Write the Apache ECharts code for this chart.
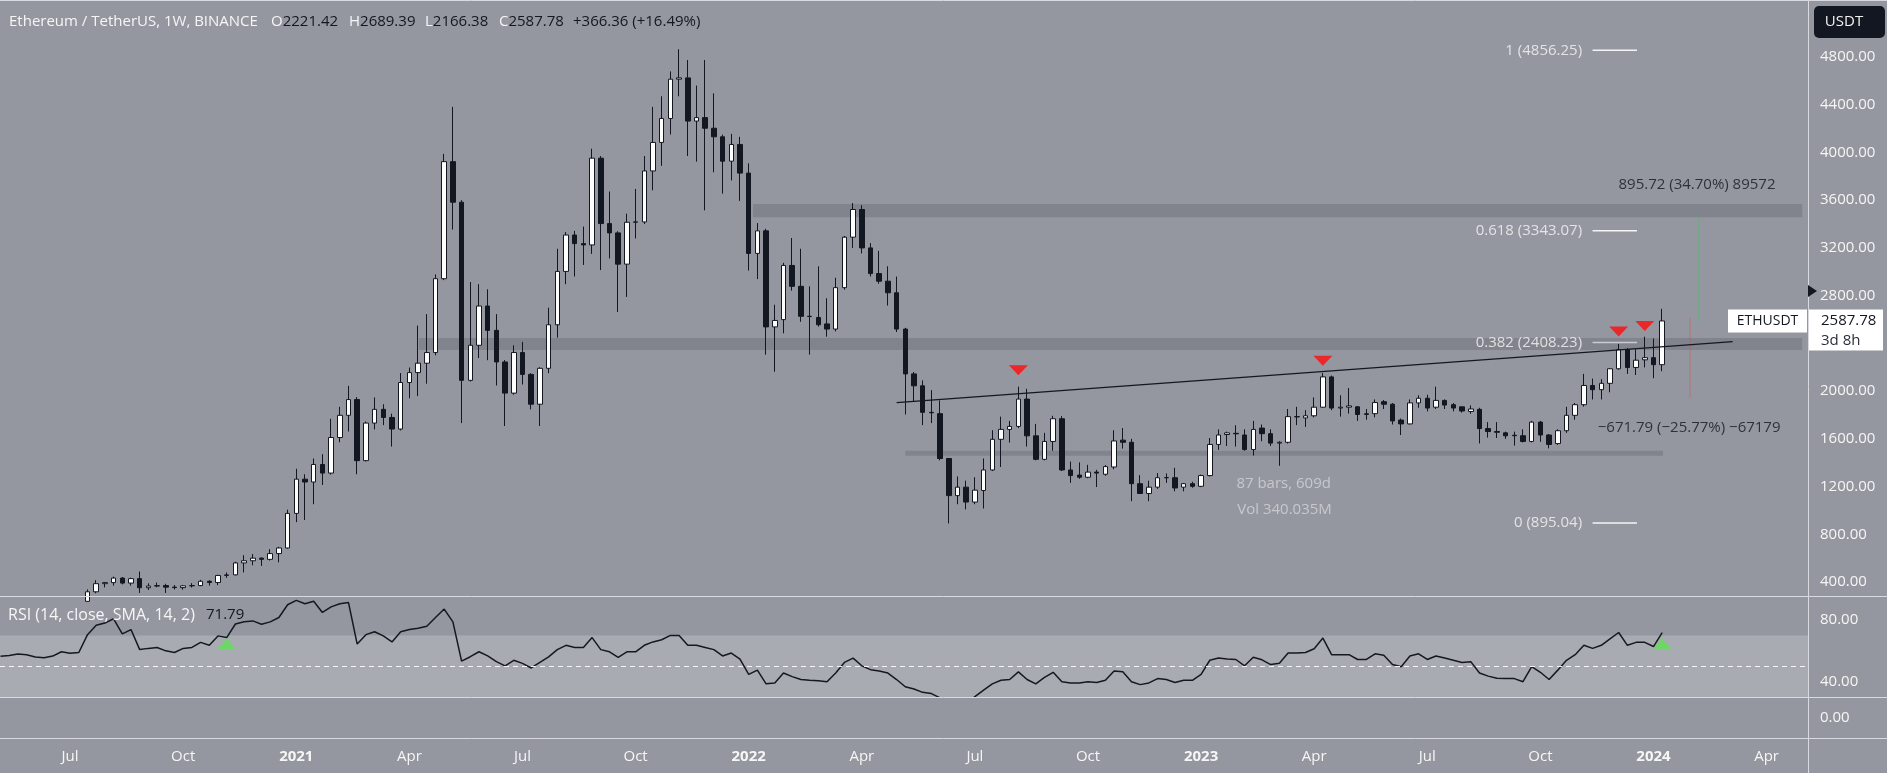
<!DOCTYPE html>
<html><head><meta charset="utf-8">
<script src="https://cdn.jsdelivr.net/npm/echarts@6/dist/echarts.min.js"></script>
<style>html,body{margin:0;padding:0;background:#94979f;}#c{width:1887px;height:773px;}</style>
</head><body><div id="c"></div>
<script>
// ---------- DATA (weekly ETH/USDT) ----------
const firstWeek = '2020-05-11';
const openP = [187,199,204,243,245,233,228,225,241,239,
238,318,386,395,433,391,428,352,366,370,
357,353,368,370,406,396,455,460,560,578,
600,590,638,685,975,1262,1238,1385,1313,1611,
1797,1929,1417,1732,1847,1779,1682,2072,2155,2234,
2323,2942,3923,3583,2090,2384,2713,2509,2244,1983,
2323,2140,1890,2191,2556,3003,3308,3236,3225,3952,
3404,3326,3064,3415,3418,3845,4084,4285,4614,4625,
4263,4292,4203,4131,3927,4067,3827,3154,3343,2538,
2599,3053,2878,2627,2617,2563,2520,2867,3290,3522,
3200,2985,2921,2824,2520,2144,2044,1822,1811,1435,
1124,1195,1070,1167,1339,1596,1679,1704,1933,1625,
1428,1578,1768,1339,1296,1278,1321,1303,1364,1589,
1571,1224,1142,1195,1274,1274,1195,1224,1202,1292,
1553,1636,1646,1632,1510,1690,1643,1564,1571,1786,
1775,1793,1865,2119,1858,1865,1868,1804,1811,1911,
1890,1757,1725,1901,1940,1865,1922,1886,1868,1829,
1847,1686,1661,1650,1630,1626,1578,1740,1632,1560,
1668,1797,1886,2047,2012,2065,2187,2348,2198,2262,
2280,2221.42];
const highP = [215,216,248,253,250,245,248,235,249,243,
338,415,400,445,442,436,488,389,395,385,
375,375,390,418,415,460,480,570,625,635,
606,675,695,1006,1349,1303,1435,1471,1768,1868,
2044,1950,1745,1947,1890,1811,2151,2198,2549,2645,
2978,3988,4382,3600,2914,2896,2853,2645,2260,2384,
2413,2150,2200,2699,3193,3333,3343,3379,4031,3970,
3673,3340,3487,3694,3970,4382,4471,4679,4865,4775,
4561,4775,4496,4149,4156,4131,3909,3408,3360,2724,
3075,3283,3193,2878,3046,2778,2950,3300,3576,3558,
3240,3175,3046,2960,2530,2160,2090,2008,1922,1440,
1285,1249,1278,1435,1672,1786,1750,2037,2019,1725,
1650,1793,1790,1410,1403,1382,1340,1380,1672,1690,
1600,1296,1249,1313,1310,1357,1230,1240,1300,1607,
1679,1660,1714,1680,1750,1720,1680,1580,1850,1868,
1840,1947,2151,2130,1965,2026,1875,1850,1930,1925,
1900,1770,1930,1965,1970,2037,1930,1900,1870,1880,
1860,1740,1740,1660,1660,1680,1750,1750,1640,1680,
1868,1900,2144,2105,2100,2190,2395,2360,2350,2456,
2441,2689.39];
const lowP = [179,196,197,229,222,222,216,219,236,226,
235,305,355,370,380,370,308,333,356,308,
338,336,354,365,370,374,435,456,480,540,
535,580,565,680,902,920,1052,1213,1300,1571,
1661,1303,1410,1679,1715,1535,1670,1940,1958,2062,
2300,2930,3354,1732,2080,2277,2259,2047,1707,1970,
2055,1847,1707,2150,2448,2896,2960,3057,3150,3014,
3111,2663,2789,3279,3400,3683,3888,4150,4471,3970,
3923,3515,3834,3655,3766,3594,3010,2939,2305,2162,
2484,2842,2581,2305,2540,2456,2500,2850,3200,3154,
2960,2900,2717,2495,1804,1911,1715,1732,1420,891,
1052,1009,1052,1016,1330,1364,1568,1690,1535,1420,
1420,1500,1330,1231,1265,1270,1196,1290,1345,1518,
1077,1140,1077,1180,1231,1160,1160,1190,1195,1285,
1507,1540,1535,1500,1460,1580,1540,1374,1560,1715,
1700,1780,1860,1840,1786,1811,1750,1760,1780,1850,
1720,1632,1720,1860,1830,1850,1850,1830,1820,1810,
1561,1610,1607,1600,1543,1570,1570,1575,1520,1550,
1650,1760,1870,1930,1930,1990,2180,2144,2135,2198,
2108,2166.38];
const closeP = [199,204,243,245,233,228,225,241,239,238,
318,386,395,433,391,428,352,366,370,357,
353,368,370,406,396,455,460,560,578,600,
590,638,685,975,1262,1238,1385,1313,1611,1797,
1929,1417,1732,1847,1779,1682,2072,2155,2234,2323,
2942,3923,3583,2090,2384,2713,2509,2244,1983,2323,
2140,1890,2191,2556,3003,3308,3236,3225,3952,3404,
3326,3064,3415,3418,3845,4084,4285,4614,4625,4263,
4292,4203,4131,3927,4067,3827,3154,3343,2538,2592,
3053,2878,2627,2625,2556,2520,2867,3290,3522,3200,
2985,2921,2824,2520,2144,2044,1822,1818,1435,1124,
1195,1070,1170,1339,1596,1679,1704,1933,1625,1428,
1578,1768,1339,1292,1278,1321,1313,1367,1582,1571,
1224,1142,1195,1274,1275,1188,1224,1202,1292,1553,
1632,1650,1642,1510,1679,1643,1564,1571,1786,1784,
1793,1865,2119,1858,1865,1876,1804,1811,1904,1890,
1750,1725,1901,1940,1858,1922,1883,1858,1833,1850,
1686,1661,1655,1625,1626,1578,1740,1632,1553,1668,
1797,1886,2047,2012,2065,2187,2348,2198,2259,2280,
2221.42,2587.78];
const rsiV = [56.5,57.0,58.0,57.5,56.0,55.5,56.6,59.4,58.5,58.9,
70.5,76.6,78.0,80.8,71.0,73.8,60.8,61.6,62.2,60.0,
58.9,61.6,62.2,65.5,63.6,69.7,68.6,77.4,78.8,79.4,
77.2,78.8,81.6,89.9,92.7,90.5,92.1,84.9,88.5,90.5,
91.3,64.4,70.5,72.4,69.7,65.8,72.4,73.8,74.7,76.0,
81.6,87.1,78.8,53.3,56.2,59.4,56.7,53.0,50.3,53.9,
51.9,48.9,52.5,56.1,60.8,63.6,62.2,62.2,68.6,60.8,
59.4,55.8,59.4,59.4,63.6,65.8,67.2,70.0,70.0,63.6,
63.6,62.2,60.8,56.7,58.6,54.7,44.7,47.5,38.6,39.2,
45.6,43.3,41.4,40.9,40.6,40.0,45.6,52.5,55.3,50.3,
47.8,46.9,45.6,41.4,36.7,35.3,33.1,32.3,29.5,23.0,
25.0,26.0,30.3,34.5,38.6,40.9,41.4,46.4,41.4,38.6,
42.8,46.1,40.0,39.2,39.2,40.0,39.5,40.9,46.9,46.4,
40.0,38.1,39.2,42.0,41.4,39.5,40.9,40.9,44.7,53.9,
55.3,54.7,54.4,50.3,55.8,54.2,51.1,51.9,58.6,58.6,
58.9,61.4,68.3,57.5,57.5,57.5,54.4,54.4,58.1,57.2,
51.1,49.7,56.7,58.1,54.4,56.7,55.3,53.9,52.5,53.0,
45.6,43.6,42.2,42.0,42.0,40.0,49.7,46.1,41.4,47.5,
53.9,57.5,63.6,61.6,63.6,67.8,71.9,63.6,65.5,65.5,
62.8,71.79];
const tickDates = ['2020-07-06','2020-10-05','2021-01-04','2021-04-05','2021-07-05','2021-10-04','2022-01-03','2022-04-04','2022-07-04','2022-10-03','2023-01-02','2023-04-03','2023-07-03','2023-10-02','2024-01-01','2024-04-01'];
const tickLabels = ['Jul','Oct','2021','Apr','Jul','Oct','2022','Apr','Jul','Oct','2023','Apr','Jul','Oct','2024','Apr'];
const priceTicks = [400,800,1200,1600,2000,2400,2800,3200,3600,4000,4400,4800];
const rsiTicks = [40,80];
const rsiBand = [30,70];
const rsiMid = 50;
// horizontal zones [from week index, to week index, low, high]
const zoneFrom = [86.5,48.1,104.0];
const zoneTo = [207.1,207.1,191.1];
const zoneLow = [3458,2345,1459];
const zoneHigh = [3569,2444,1499];
// trend line (week index, price)
const trendX = [103.0,199.1];
const trendY = [1903,2415];
// fibonacci levels
const fibLevel = ['1','0.618','0.382','0'];
const fibPrice = [4856.25,3343.07,2408.23,895.04];
const fibFrom = 183.0, fibTo = 188.1;
// signals
const redSigX = [117,152,186,189];
const redSigY = [2174,2255,2500,2545];
const greenSigX = [26,191];
const greenSigY = [64.8,64.8];
// measurement annotations
const noteText = ['895.72 (34.70%) 89572','\u2212671.79 (\u221225.77%) \u221267179'];
const noteX = [195.0,194.1];
const noteY = [3733,1693];
const infoText = ['87 bars, 609d','Vol 340.035M'];
const infoX = [142.0,142.1];
const infoY = [1221,1008];
const greenRangeX = 195.2, greenRange = [3468,2582];
const redRangeX = 194.2, redRange = [2613,1943];

// ---------- BUILD ----------
const N = openP.length;
const dates = [];
for (let i = 0; i < 215; i++) dates.push(new Date(Date.UTC(2020,4,11) + i*604800000).toISOString().slice(0,10));
const tickIdx = tickDates.map(d => dates.indexOf(d));
const candles = openP.map((o,i) => [i, o, closeP[i], lowP[i], highP[i]]);
const rsiData = rsiV.map((v,i) => [i, v]);

const FONT = '"Open Sans", "Liberation Sans", sans-serif';
const DARK = '#131722';
const WHITE = '#f6f6f6';
const xMin = -0.0575, xMax = 207.76;
const W = 1808;

const chart = echarts.init(document.getElementById('c'), null, {renderer:'canvas', width:1887, height:773});

const xAxes = [0,1,2].map(k => ({
  type:'value', gridIndex:k, min:xMin, max:xMax,
  splitLine:{show:false}, axisLine:{show:false}, axisTick:{show:false},
  axisLabel: k === 2 ? {
    show:true, customValues: tickIdx, margin: 11, color: WHITE, fontSize: 15, fontFamily: FONT,
    formatter: v => { const t = tickLabels[tickIdx.indexOf(Math.round(v))] || ''; return /^\d{4}$/.test(t) ? '{b|' + t + '}' : t; },
    rich: { b: { fontWeight:'bold', fontSize:15, color: WHITE, fontFamily: FONT } }
  } : {show:false}
}));
const yBase = {type:'value', position:'right', splitLine:{show:false}, axisLine:{show:false}, axisTick:{show:false}};
const yAxes = [
  Object.assign({}, yBase, {gridIndex:0, min:282.7, max:5277.7, axisLabel:{customValues: priceTicks, formatter: v => v.toFixed(2), color: WHITE, fontSize:15, margin:12, fontFamily: FONT}}),
  Object.assign({}, yBase, {gridIndex:1, min:30.08, max:95.56, axisLabel:{customValues: rsiTicks, formatter: v => v.toFixed(2), color: WHITE, fontSize:15, margin:12, fontFamily: FONT}}),
  Object.assign({}, yBase, {gridIndex:2, min:-1, max:1, axisLabel:{customValues:[0], formatter: v => v.toFixed(2), color: WHITE, fontSize:15, margin:12, fontFamily: FONT}})
];

const last = N - 1;
const chg = closeP[last] - closeP[last-1];
const pct = chg / closeP[last-1] * 100;

const series = [];
series.push({
  type:'candlestick', xAxisIndex:0, yAxisIndex:0, data: candles, barWidth:5, clip:true,
  itemStyle:{color:'#ffffff', color0: DARK, borderColor: DARK, borderColor0: DARK, borderWidth:1},
  markArea:{silent:true, itemStyle:{color:'#81848c'},
    data: zoneFrom.map((f,i) => [{xAxis:f, yAxis:zoneLow[i]}, {xAxis:zoneTo[i], yAxis:zoneHigh[i]}])}
});
series.push({
  type:'line', xAxisIndex:0, yAxisIndex:0, data: trendX.map((x,i)=>[x, trendY[i]]), symbol:'none', z:5,
  lineStyle:{color: DARK, width:1.2}
});
fibPrice.forEach((p,i) => {
  series.push({type:'line', xAxisIndex:0, yAxisIndex:0, data:[[fibFrom,p],[fibTo,p]], symbol:'none', z:4,
    lineStyle:{color: i === 2 ? '#c9cbd1' : '#f4f4f4', width:1.5}});
});
series.push({
  type:'scatter', xAxisIndex:0, yAxisIndex:0, symbolSize:1, itemStyle:{color:'transparent'}, z:6,
  data: fibPrice.map((p,i) => ({name: fibLevel[i] + ' (' + p.toFixed(2) + ')', value:[fibFrom, p]})),
  label:{show:true, position:'left', distance:10, formatter:'{b}', color: WHITE, fontSize:15, fontFamily: FONT}
});
series.push({
  type:'scatter', xAxisIndex:0, yAxisIndex:0, symbolSize:1, itemStyle:{color:'transparent'}, z:6,
  data: noteText.map((t,i) => ({name:t, value:[noteX[i], noteY[i]]})),
  label:{show:true, position:'inside', formatter:'{b}', color: DARK, fontSize:15, fontFamily: FONT}
});
series.push({
  type:'scatter', xAxisIndex:0, yAxisIndex:0, symbolSize:1, itemStyle:{color:'transparent'}, z:6,
  data: infoText.map((t,i) => ({name:t, value:[infoX[i], infoY[i]]})),
  label:{show:true, position:'right', distance:0, formatter:'{b}', color:'#d3d5da', fontSize:15, fontFamily: FONT}
});
series.push({
  type:'line', xAxisIndex:0, yAxisIndex:0, data: greenRange.map(v => [greenRangeX, v]), symbol:'none', z:3,
  lineStyle:{color:'rgba(70,190,90,0.45)', width:1}
});
series.push({
  type:'line', xAxisIndex:0, yAxisIndex:0, data: redRange.map(v => [redRangeX, v]), symbol:'none', z:3,
  lineStyle:{color:'rgba(225,70,70,0.45)', width:1}
});
series.push({
  type:'scatter', xAxisIndex:0, yAxisIndex:0, symbol:'triangle', symbolRotate:180, symbolSize:[19,10], z:7,
  itemStyle:{color:'#ff0d0d'}, data: redSigX.map((x,i)=>[x, redSigY[i]])
});
series.push({
  type:'line', xAxisIndex:1, yAxisIndex:1, data: rsiData, symbol:'none', showSymbol:false, clip:true, z:4,
  lineStyle:{color:'#15181f', width:1.5},
  markArea:{silent:true, itemStyle:{color:'#a9abb3'}, data:[[{yAxis:rsiBand[0]},{yAxis:rsiBand[1]}]]},
  markLine:{silent:true, symbol:'none', label:{show:false}, lineStyle:{color:'#f4f4f4', type:[5,4], width:1}, data:[{yAxis:rsiMid}]}
});
series.push({
  type:'scatter', xAxisIndex:1, yAxisIndex:1, symbol:'triangle', symbolSize:[18,11], z:3,
  itemStyle:{color:'#62e055'}, data: greenSigX.map((x,i)=>[x, greenSigY[i]])
});

chart.setOption({
  animation:false,
  backgroundColor:'#94979f',
  textStyle:{fontFamily: FONT},
  grid:[
    {left:0, top:0, width:W, height:596},
    {left:0, top:596, width:W, height:101},
    {left:0, top:697, width:W, height:41}
  ],
  xAxis: xAxes,
  yAxis: yAxes,
  series: series
});

const cy = chart.convertToPixel({yAxisIndex:0}, closeP[last]);
const sep = '#d8dadf';
function mkRich(fs) {
  return {w:{fill:WHITE, fontSize:fs, fontFamily:FONT, fontWeight:'normal'}, d:{fill:DARK, fontSize:fs, fontFamily:FONT, fontWeight:'normal'}};
}
function txt(text, x, y, fs) {
  fs = fs || 15;
  return {type:'text', z:52, style:{text:text, x:x, y:y, rich:mkRich(fs), fontSize:fs, fontFamily:FONT, align:'left', verticalAlign:'middle'}};
}
// header legend (values taken from the last bar of the data arrays)
const hdrItems = [
  ['{w|Ethereum / TetherUS, 1W, BINANCE}', 9],
  ['{w|O}{d|' + openP[last].toFixed(2) + '}', 271],
  ['{w|H}{d|' + highP[last].toFixed(2) + '}', 349],
  ['{w|L}{d|' + lowP[last].toFixed(2) + '}', 425],
  ['{w|C}{d|' + closeP[last].toFixed(2) + '}', 499],
  ['{d|+' + chg.toFixed(2) + ' (+' + pct.toFixed(2) + '%)}', 573]
];
const graphics = [
  {type:'line', z:50, shape:{x1:0, y1:0.5, x2:1887, y2:0.5}, style:{stroke:sep, lineWidth:1}},
  {type:'line', z:50, shape:{x1:W+0.5, y1:0, x2:W+0.5, y2:773}, style:{stroke:sep, lineWidth:1}},
  {type:'line', z:50, shape:{x1:0, y1:596.5, x2:1887, y2:596.5}, style:{stroke:sep, lineWidth:1}},
  {type:'line', z:50, shape:{x1:0, y1:697.5, x2:1887, y2:697.5}, style:{stroke:sep, lineWidth:1}},
  {type:'line', z:50, shape:{x1:0, y1:738.5, x2:1887, y2:738.5}, style:{stroke:sep, lineWidth:1}},
  {type:'rect', z:50, shape:{x:1814, y:6, width:71, height:32, r:5}, style:{fill:DARK}},
  {type:'text', z:51, style:{text:'USDT', x:1844, y:22, fill:'#f0f0f0', fontSize:15, fontFamily:FONT, align:'center', verticalAlign:'middle'}},
  {type:'polygon', z:50, shape:{points:[[W,285],[W+9,291],[W,297]]}, style:{fill:DARK}},
  {type:'rect', z:50, shape:{x:1728, y:cy-11.5, width:79, height:23}, style:{fill:'#ffffff'}},
  {type:'text', z:51, style:{text:'ETHUSDT', x:1767.5, y:cy, fill:DARK, fontSize:14, fontFamily:FONT, align:'center', verticalAlign:'middle'}},
  {type:'rect', z:50, shape:{x:W+1, y:cy-11.5, width:74, height:41}, style:{fill:'#ffffff'}},
  {type:'text', z:51, style:{text:closeP[last].toFixed(2), x:1821, y:cy, fill:DARK, fontSize:15, fontFamily:FONT, align:'left', verticalAlign:'middle'}},
  {type:'text', z:51, style:{text:'3d 8h', x:1821, y:cy+19.5, fill:'#2a2e39', fontSize:15, fontFamily:FONT, align:'left', verticalAlign:'middle'}}
];
hdrItems.forEach(h => graphics.push(txt(h[0], h[1], 22)));
graphics.push(txt('{w|RSI (14, close, SMA, 14, 2)}', 8, 615, 16));
graphics.push(txt('{d|' + rsiV[last].toFixed(2) + '}', 206, 615, 15));
chart.setOption({graphic: graphics});
</script>
</body></html>
